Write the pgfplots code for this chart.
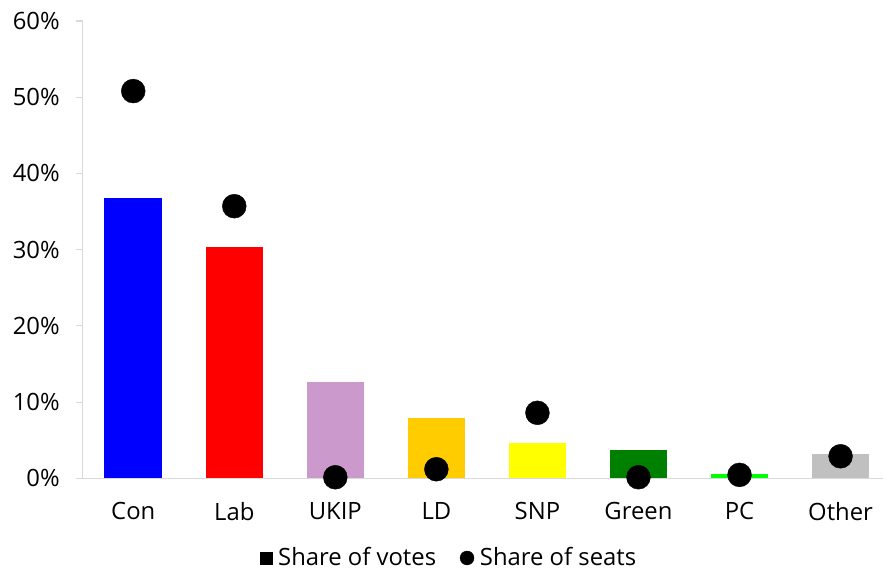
\documentclass[border=0pt]{standalone}
\usepackage{fontspec}
\setmainfont{Open Sans}
\usepackage{pgfplots}
\pgfplotsset{compat=1.18}

\definecolor{conblue}{RGB}{0,0,255}
\definecolor{labred}{RGB}{255,0,0}
\definecolor{ukippurple}{RGB}{204,153,204}
\definecolor{ldorange}{RGB}{255,204,0}
\definecolor{snpyellow}{RGB}{255,255,0}
\definecolor{greengreen}{RGB}{0,128,0}
\definecolor{pcgreen}{RGB}{0,255,0}
\definecolor{othergrey}{RGB}{192,192,192}
\definecolor{axisgrey}{RGB}{217,217,217}

\pgfplotsset{partybar/.style={ybar, bar width=57.7bp, bar shift=0pt, fill=#1, draw=none, forget plot}}

\begin{document}
\fontsize{24}{28}\selectfont
\begin{tikzpicture}
\begin{axis}[
    name=a,
    scale only axis,
    width=803bp, height=459bp,
    xmin=-0.5, xmax=7.42,
    ymin=0, ymax=60,
    axis lines*=left,
    axis line style={axisgrey, line width=1.2bp},
    xtick={0,1,2,3,4,5,6,7},
    xticklabels={Con,Lab,UKIP,LD,SNP,Green,PC,Other},
    x tick style={draw=none},
    xticklabel style={yshift=-9bp},
    ytick={0,10,20,30,40,50,60},
    yticklabel={\pgfmathprintnumber{\tick}\%},
    /pgf/number format/assume math mode=true,
    y tick style={axisgrey, line width=1.2bp},
    tick align=outside,
    major tick length=7bp,
    yticklabel style={xshift=-8bp},
    legend style={draw=none, at={(0.458,-0.174)}, anchor=center,
        inner sep=0pt, nodes={inner ysep=1bp},
        legend columns=2, font=\fontsize{24}{28}\selectfont,
        /tikz/every odd column/.append style={column sep=4bp},
        /tikz/every even column/.append style={column sep=22bp}},
    legend cell align=left,
]
\addplot[partybar=conblue] coordinates {(0,36.8)};
\addplot[partybar=labred] coordinates {(1,30.4)};
\addplot[partybar=ukippurple] coordinates {(2,12.6)};
\addplot[partybar=ldorange] coordinates {(3,7.9)};
\addplot[partybar=snpyellow] coordinates {(4,4.7)};
\addplot[partybar=greengreen] coordinates {(5,3.7)};
\addplot[partybar=pcgreen] coordinates {(6,0.55)};
\addplot[partybar=othergrey] coordinates {(7,3.15)};
\addplot[only marks, mark=*, mark size=12bp, black, forget plot] coordinates {
    (0,50.8) (1,35.7) (2,0.15) (3,1.2) (4,8.6) (5,0.15) (6,0.46) (7,2.9)
};
\addlegendimage{only marks, mark=square*, mark size=6bp, black}
\addlegendentry{Share of votes}
\addlegendimage{only marks, mark=*, mark size=7bp, black}
\addlegendentry{Share of seats}
\end{axis}
\pgfresetboundingbox
\path ([shift={(-83bp,-94bp)}]a.south west) rectangle ([shift={(3bp,21bp)}]a.north east);
\end{tikzpicture}
\end{document}
